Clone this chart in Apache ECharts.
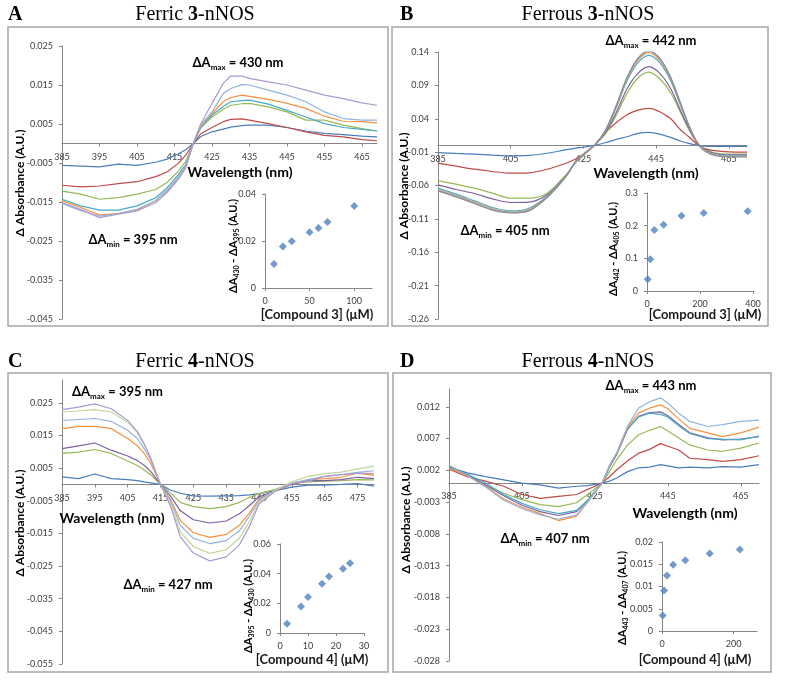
<!DOCTYPE html>
<html><head><meta charset="utf-8">
<script src="https://cdn.jsdelivr.net/npm/echarts@6/dist/echarts.min.js"></script>
<style>html,body{margin:0;padding:0;background:#fff}#c{width:800px;height:686px}</style>
</head><body><div id="c"></div>
<script>
// ---------------- Panel A : Ferric 3-nNOS ----------------
const wlA = [385,390,395,400,405,410,413,416,418,420,422,425,428,430,433,435,440,445,450,455,460,465,469];
const A_blue   = [-0.0056,-0.0058,-0.006,-0.0053,-0.0056,-0.0048,-0.004,-0.0027,-0.0016,0,0.0018,0.003,0.0037,0.0042,0.0046,0.0047,0.0047,0.0041,0.0032,0.0026,0.0023,0.0019,0.0017];
const A_red    = [-0.0107,-0.0111,-0.0109,-0.0103,-0.0098,-0.0085,-0.0073,-0.0051,-0.003,0,0.0025,0.0041,0.0056,0.0062,0.0063,0.006,0.0051,0.0041,0.003,0.0021,0.0017,0.001,0.0007];
const A_green  = [-0.0122,-0.013,-0.0143,-0.0139,-0.013,-0.0118,-0.01,-0.0071,-0.0046,0,0.004,0.0068,0.0088,0.0098,0.0102,0.0103,0.0094,0.0081,0.006,0.006,0.0047,0.0038,0.0032];
const A_aqua   = [-0.0143,-0.016,-0.0171,-0.0171,-0.016,-0.0139,-0.0114,-0.008,-0.0054,0,0.0042,0.0073,0.0095,0.0107,0.011,0.0111,0.0101,0.0085,0.0068,0.0051,0.0041,0.0036,0.0032];
const A_orange = [-0.0147,-0.0164,-0.0183,-0.018,-0.0171,-0.0147,-0.0122,-0.0088,-0.0058,0,0.0045,0.0077,0.0107,0.0118,0.0124,0.0121,0.0113,0.0103,0.009,0.007,0.0057,0.0056,0.0053];
const A_ltblue = [-0.0154,-0.0172,-0.0186,-0.018,-0.0169,-0.0146,-0.012,-0.0086,-0.0056,0,0.0048,0.0081,0.0128,0.0141,0.0151,0.015,0.0137,0.0124,0.0107,0.0081,0.0064,0.006,0.006];
const A_lav    = [-0.0152,-0.0169,-0.019,-0.0181,-0.0173,-0.0152,-0.0126,-0.0092,-0.0063,0,0.005,0.0103,0.0154,0.0173,0.0173,0.0167,0.0158,0.015,0.0137,0.0124,0.0115,0.0104,0.0098];
const A_xTicks = [385,395,405,415,425,435,445,455,465];
const A_yTicks = [-0.045,-0.035,-0.025,-0.015,-0.005,0.005,0.015,0.025];
const Ai_conc = [10,20,30,50,60,70,100];
const Ai_val  = [0.0102,0.0177,0.0199,0.0237,0.0255,0.0281,0.0349];
const Ai_xTicks = [0,50,100];
const Ai_yTicks = [0,0.02,0.04];

// ---------------- Panel B : Ferrous 3-nNOS ----------------
const wlB = [385,390,395,400,405,410,415,420,423,425,428,431,434,437,440,443,446,449,452,454,456,458,461,465,470];
const B_blue   = [-0.0108,-0.012,-0.013,-0.0145,-0.0157,-0.015,-0.0117,-0.0067,-0.004,-0.0027,0,0.004,0.009,0.013,0.0182,0.0197,0.017,0.012,0.006,0.003,0.0005,-0.001,-0.0013,-0.0015,-0.0015];
const B_red    = [-0.0266,-0.031,-0.0356,-0.039,-0.0416,-0.041,-0.0356,-0.027,-0.02,-0.013,0,0.019,0.034,0.046,0.053,0.0556,0.0505,0.04,0.022,0.013,0.003,-0.004,-0.0078,-0.0097,-0.01];
const B_green  = [-0.0526,-0.058,-0.064,-0.0715,-0.079,-0.079,-0.0715,-0.045,-0.025,-0.015,0,0.017,0.045,0.078,0.101,0.11,0.1,0.079,0.046,0.024,0.006,-0.005,-0.011,-0.013,-0.013];
const B_purple = [-0.059,-0.066,-0.072,-0.08,-0.0855,-0.085,-0.074,-0.047,-0.024,-0.014,0,0.019,0.049,0.085,0.108,0.118,0.108,0.085,0.049,0.026,0.006,-0.005,-0.012,-0.014,-0.014];
const B_aqua   = [-0.064,-0.073,-0.083,-0.093,-0.098,-0.094,-0.076,-0.047,-0.023,-0.013,0,0.021,0.056,0.097,0.124,0.135,0.124,0.097,0.056,0.029,0.007,-0.006,-0.014,-0.015,-0.015];
const B_orange = [-0.066,-0.075,-0.085,-0.095,-0.1,-0.096,-0.077,-0.048,-0.023,-0.013,0,0.022,0.058,0.1,0.128,0.139,0.128,0.1,0.058,0.03,0.007,-0.006,-0.014,-0.016,-0.016];
const B_ltblue = [-0.067,-0.076,-0.086,-0.096,-0.1,-0.097,-0.078,-0.048,-0.023,-0.013,0,0.022,0.059,0.101,0.13,0.141,0.13,0.101,0.059,0.03,0.007,-0.006,-0.014,-0.016,-0.016];
const B_gray   = [-0.068,-0.077,-0.087,-0.097,-0.101,-0.098,-0.078,-0.048,-0.023,-0.013,0,0.022,0.059,0.102,0.131,0.142,0.131,0.102,0.059,0.03,0.007,-0.007,-0.015,-0.017,-0.017];
const B_xTicks = [385,405,425,445,465];
const B_yTicks = [-0.26,-0.21,-0.16,-0.11,-0.06,-0.01,0.04,0.09,0.14];
const Bi_conc = [2.5,12.5,27.5,62.5,130,214,380];
const Bi_val  = [0.036,0.097,0.187,0.203,0.23,0.239,0.244];
const Bi_xTicks = [0,200,400];
const Bi_yTicks = [0,0.1,0.2,0.3];

// ---------------- Panel C : Ferric 4-nNOS ----------------
const wlC = [385,390,395,400,405,408,410,412,415,418,421,425,430,435,439,442,445,450,455,460,465,470,475,480];
const C_blue    = [0.0023,0.0018,0.0032,0.0018,0.0015,0.0012,0.0008,0.0005,0,-0.0017,-0.0027,-0.0035,-0.0036,-0.0035,-0.0034,-0.0032,-0.0028,-0.0019,-0.0008,-0.0002,-0.0002,0,0.0003,-0.0005];
const C_green   = [0.0095,0.0099,0.0107,0.0095,0.0072,0.0058,0.0044,0.003,0,-0.0025,-0.0055,-0.0068,-0.0074,-0.0068,-0.0055,-0.004,-0.0028,-0.0015,0.0004,0.0008,0.001,0.0012,0.0015,0.0014];
const C_purple  = [0.011,0.0118,0.0127,0.0105,0.0087,0.0073,0.0059,0.004,0,-0.0035,-0.008,-0.0108,-0.0118,-0.0112,-0.009,-0.0065,-0.0038,-0.002,0,0.0012,0.0012,0.0015,0.0022,0.0018];
const C_orange  = [0.0171,0.0178,0.0178,0.0171,0.0141,0.0118,0.0095,0.0065,0,-0.0045,-0.011,-0.0148,-0.0162,-0.0153,-0.0125,-0.0088,-0.0045,-0.002,0.0002,0.0015,0.0018,0.0022,0.0035,0.0028];
const C_ltblue  = [0.0196,0.0199,0.0202,0.0193,0.0166,0.014,0.011,0.0075,0,-0.005,-0.0125,-0.0165,-0.0181,-0.0172,-0.0142,-0.0098,-0.0048,-0.0018,0.0004,0.0015,0.0025,0.003,0.0037,0.0042];
const C_ltgreen = [0.0222,0.0225,0.0229,0.0222,0.019,0.0158,0.0122,0.0082,0,-0.006,-0.0145,-0.019,-0.0211,-0.02,-0.0165,-0.0115,-0.0055,-0.0018,0.0008,0.0025,0.0033,0.0038,0.0048,0.0056];
const C_lav     = [0.0229,0.0237,0.0247,0.0232,0.0196,0.0161,0.0125,0.008,0,-0.0065,-0.016,-0.021,-0.0234,-0.0222,-0.0185,-0.013,-0.006,-0.002,0.0003,0.001,0.0025,0.003,0.0035,0.0033];
const C_xTicks = [385,395,405,415,425,435,445,455,465,475];
const C_yTicks = [-0.055,-0.045,-0.035,-0.025,-0.015,-0.005,0.005,0.015,0.025];
const Ci_conc = [2.5,7.5,10,15,17.5,22.5,25];
const Ci_val  = [0.0063,0.0179,0.0242,0.0332,0.0381,0.0433,0.0471];
const Ci_xTicks = [0,10,20,30];
const Ci_yTicks = [0,0.02,0.04,0.06];

// ---------------- Panel D : Ferrous 4-nNOS ----------------
const wlD = [385,390,395,400,405,410,415,420,423,425,427,429,431,434,437,440,443,445,448,451,456,460,465,470];
const D_blue   = [0.0025,0.0016,0.001,0.0005,0,-0.0003,-0.0008,-0.0005,-0.0004,-0.0002,0,0.0003,0.0008,0.0018,0.0024,0.0025,0.0029,0.0027,0.0024,0.0025,0.0024,0.0026,0.0025,0.0029];
const D_red    = [0.0022,0.001,0.0003,-0.0005,-0.0018,-0.0024,-0.0021,-0.0018,-0.001,-0.0005,0,0.001,0.0021,0.0035,0.0047,0.0053,0.0062,0.0058,0.0052,0.0039,0.0037,0.0034,0.0037,0.0043];
const D_green  = [0.0025,0.0012,-0.0003,-0.0016,-0.0026,-0.0034,-0.0037,-0.0031,-0.0018,-0.0009,0,0.0018,0.0037,0.006,0.0076,0.0083,0.0089,0.0082,0.0071,0.006,0.0052,0.005,0.0055,0.0063];
const D_purple = [0.0027,0.0013,-0.0003,-0.002,-0.0035,-0.0045,-0.0051,-0.0045,-0.0028,-0.0014,0,0.0025,0.0045,0.0085,0.0105,0.0111,0.0112,0.0106,0.0092,0.0079,0.0071,0.0068,0.0069,0.0073];
const D_aqua   = [0.0024,0.0014,0,-0.0018,-0.0032,-0.0042,-0.0048,-0.0043,-0.0027,-0.0013,0,0.0026,0.0046,0.0086,0.0104,0.011,0.0108,0.0104,0.009,0.0078,0.007,0.0069,0.0068,0.0074];
const D_orange = [0.0023,0.0012,-0.0005,-0.0025,-0.0038,-0.0048,-0.0059,-0.0052,-0.003,-0.0015,0,0.0027,0.0047,0.0088,0.011,0.0118,0.0123,0.0117,0.0101,0.0086,0.0079,0.0073,0.0079,0.0088];
const D_ltblue = [0.0028,0.0012,-0.0006,-0.0027,-0.004,-0.005,-0.0057,-0.005,-0.003,-0.0015,0,0.0028,0.0048,0.009,0.0118,0.0128,0.0134,0.0126,0.011,0.0097,0.0089,0.0092,0.0097,0.0099];
const D_xTicks = [385,405,425,445,465];
const D_yTicks = [-0.028,-0.023,-0.018,-0.013,-0.008,-0.003,0.002,0.007,0.012];
const Di_conc = [2,6,14,31,65,133,217];
const Di_val  = [0.0035,0.0091,0.0125,0.0149,0.0159,0.0174,0.0183];
const Di_xTicks = [0,200];
const Di_yTicks = [0,0.005,0.01,0.015,0.02];

// ---------------- styling ----------------
const BLUE='#4A7EBB', RED='#BE4B48', GREEN='#98B954', PURPLE='#7D60A0', AQUA='#46AAC5',
      ORANGE='#F69240', LTBLUE='#93B3DB', LAV='#A99BD0', LTGREEN='#C3D69B', GRAY='#8C8C8C';
const FONT = 'Lato, "Liberation Sans", sans-serif';
const SERIF = '"Liberation Serif", "DejaVu Serif", serif';
const AX = '#868686', LBL = '#404040';

const grids = [
  {left:62,  top:46,  width:315, height:273},   // A
  {left:265, top:194, width:107, height:94},    // A inset
  {left:438, top:52,  width:309, height:267},   // B
  {left:647, top:193, width:106, height:98},    // B inset
  {left:62,  top:380, width:312, height:284},   // C
  {left:280, top:544, width:84,  height:89},    // C inset
  {left:449, top:389, width:310, height:272},   // D
  {left:662, top:542, width:95,  height:89}     // D inset
].map(g => Object.assign({containLabel:false}, g));

const yRanges = [[-0.045,0.025],[0,0.04],[-0.26,0.14],[0,0.3],[-0.055,0.032],[0,0.06],[-0.028,0.0148],[0,0.02]];

// x axis of a main panel sits on y = 0 of its value axis (placed via offset from the grid bottom)
function zeroOffset(gi) {
  const [lo, hi] = yRanges[gi];
  return -grids[gi].height * (0 - lo) / (hi - lo);
}
function xAx(gi, min, max, ticks) {
  return {type:'value', gridIndex:gi, min, max, position:'bottom', offset: zeroOffset(gi),
    axisLine:{show:true, onZero:false, lineStyle:{color:AX, width:1}},
    axisTick:{show:true, customValues:ticks, length:3, lineStyle:{color:AX}},
    axisLabel:{customValues:ticks, fontSize:9, color:LBL, fontFamily:FONT, margin:9},
    splitLine:{show:false}};
}
function yAx(gi, ticks, dec) {
  const [min, max] = yRanges[gi];
  return {type:'value', gridIndex:gi, min, max,
    axisLine:{show:true, onZero:false, lineStyle:{color:AX, width:1}},
    axisTick:{show:true, customValues:ticks, length:3, lineStyle:{color:AX}},
    axisLabel:{customValues:ticks, fontSize:9, color:LBL, fontFamily:FONT, margin:9,
      formatter: dec == null ? undefined : (v => v.toFixed(dec))},
    splitLine:{show:false}};
}
function lines(gi, wl, arrs, colors, smooth) {
  return arrs.map((a, i) => ({type:'line', xAxisIndex:gi, yAxisIndex:gi,
    data: wl.map((w, j) => [w, a[j]]), symbol:'none', smooth: smooth || false,
    lineStyle:{width:1.2, color:colors[i]}, itemStyle:{color:colors[i]}, silent:true, z:2}));
}
function dots(gi, xs, ys) {
  return {type:'scatter', xAxisIndex:gi, yAxisIndex:gi, data: xs.map((v, i) => [v, ys[i]]),
    symbol:'diamond', symbolSize:8, itemStyle:{color:'#4F81BD'}, silent:true, z:3};
}

const xAxis = [
  xAx(0, 385, 469, A_xTicks), xAx(1, 0, 120, Ai_xTicks),
  xAx(2, 385, 470, B_xTicks), xAx(3, 0, 400, Bi_xTicks),
  xAx(4, 385, 480, C_xTicks), xAx(5, 0, 30, Ci_xTicks),
  xAx(6, 385, 470, D_xTicks), xAx(7, 0, 265, Di_xTicks)
];
const yAxis = [
  yAx(0, A_yTicks, 3), yAx(1, Ai_yTicks),
  yAx(2, B_yTicks, 2), yAx(3, Bi_yTicks),
  yAx(4, C_yTicks, 3), yAx(5, Ci_yTicks),
  yAx(6, D_yTicks, 3), yAx(7, Di_yTicks)
];

const series = [].concat(
  lines(0, wlA, [A_blue, A_red, A_green, A_aqua, A_orange, A_ltblue, A_lav],
        [BLUE, RED, GREEN, AQUA, ORANGE, LTBLUE, LAV]),
  [dots(1, Ai_conc, Ai_val)],
  lines(2, wlB, [B_blue, B_red, B_green, B_purple, B_aqua, B_orange, B_ltblue, B_gray],
        [BLUE, RED, GREEN, PURPLE, AQUA, ORANGE, LTBLUE, GRAY], 0.3),
  [dots(3, Bi_conc, Bi_val)],
  lines(4, wlC, [C_blue, C_green, C_purple, C_orange, C_ltblue, C_ltgreen, C_lav],
        [BLUE, GREEN, PURPLE, ORANGE, LTBLUE, LTGREEN, LAV]),
  [dots(5, Ci_conc, Ci_val)],
  lines(6, wlD, [D_blue, D_red, D_green, D_purple, D_aqua, D_orange, D_ltblue],
        [BLUE, RED, GREEN, PURPLE, AQUA, ORANGE, LTBLUE]),
  [dots(7, Di_conc, Di_val)]
);

// ---------------- texts & frames ----------------
function box(x, y, w, h) {
  return {type:'rect', shape:{x, y, width:w, height:h}, silent:true, z:0,
    style:{fill:'none', stroke:'#A6A6A6', lineWidth:1.5}};
}
function txt(x, y, text, rich, align, rot) {
  return {type:'text', x, y, rotation: rot || 0, silent:true, z:10,
    style:{text, rich, align: align || 'center', verticalAlign:'middle',
      fill:'#000', fontFamily:FONT, fontSize:12}};
}
const richTitle = {
  n:{fontSize:20, fontFamily:SERIF, fill:'#000', lineHeight:24},
  b:{fontSize:20, fontFamily:SERIF, fontWeight:'bold', fill:'#000', lineHeight:24}
};
const richAnn = {
  b:{fontSize:13, fontWeight:'bold', fontFamily:FONT, fill:'#000', lineHeight:16},
  s:{fontSize:8, fontWeight:'bold', fontFamily:FONT, fill:'#000', lineHeight:9, verticalAlign:'bottom'}
};
const richSmall = {
  b:{fontSize:11, fontWeight:'bold', fontFamily:FONT, fill:'#000', lineHeight:14},
  s:{fontSize:7, fontWeight:'bold', fontFamily:FONT, fill:'#000', lineHeight:8, verticalAlign:'bottom'}
};
const richAxis = {b:{fontSize:12, fontWeight:'bold', fontFamily:FONT, fill:'#000'}};
const richWave = {b:{fontSize:14, fontWeight:'bold', fontFamily:FONT, fill:'#000'}};
const richComp = {b:{fontSize:13, fontWeight:'bold', fontFamily:FONT, fill:'#1a1a1a'}};
const V = Math.PI / 2;

const graphic = [
  box(8, 27, 380, 299), box(392, 27, 376, 299), box(8, 373, 380, 299), box(393, 373, 378, 299),
  txt(8, 15, '{b|A}', richTitle, 'left'), txt(400, 15, '{b|B}', richTitle, 'left'),
  txt(8, 362, '{b|C}', richTitle, 'left'), txt(400, 362, '{b|D}', richTitle, 'left'),
  txt(195, 15, '{n|Ferric }{b|3}{n|-nNOS}', richTitle),
  txt(588, 15, '{n|Ferrous }{b|3}{n|-nNOS}', richTitle),
  txt(195, 362, '{n|Ferric }{b|4}{n|-nNOS}', richTitle),
  txt(588, 362, '{n|Ferrous }{b|4}{n|-nNOS}', richTitle),
  txt(20, 183, '{b|Δ Absorbance (A.U.)}', richAxis, 'center', V),
  txt(404, 186, '{b|Δ Absorbance (A.U.)}', richAxis, 'center', V),
  txt(20, 523, '{b|Δ Absorbance (A.U.)}', richAxis, 'center', V),
  txt(406, 520, '{b|Δ Absorbance (A.U.)}', richAxis, 'center', V),
  txt(240, 172, '{b|Wavelength (nm)}', richWave),
  txt(646, 173, '{b|Wavelength (nm)}', richWave),
  txt(112, 518, '{b|Wavelength (nm)}', richWave),
  txt(685, 513, '{b|Wavelength (nm)}', richWave),
  txt(238, 63, '{b|ΔA}{s|max}{b| = 430 nm}', richAnn),
  txt(133, 240, '{b|ΔA}{s|min}{b| = 395 nm}', richAnn),
  txt(651, 41, '{b|ΔA}{s|max}{b| = 442 nm}', richAnn),
  txt(505, 231, '{b|ΔA}{s|min}{b| = 405 nm}', richAnn),
  txt(72, 392, '{b|ΔA}{s|max}{b| = 395 nm}', richAnn, 'left'),
  txt(168, 585, '{b|ΔA}{s|min}{b| = 427 nm}', richAnn),
  txt(651, 386, '{b|ΔA}{s|max}{b| = 443 nm}', richAnn),
  txt(545, 539, '{b|ΔA}{s|min}{b| = 407 nm}', richAnn),
  txt(233, 246, '{b|ΔA}{s|430}{b| - ΔA}{s|395}{b| (A.U.)}', richSmall, 'center', V),
  txt(613, 249, '{b|ΔA}{s|442}{b| - ΔA}{s|405}{b| (A.U.)}', richSmall, 'center', V),
  txt(248, 606, '{b|ΔA}{s|395}{b| - ΔA}{s|430}{b| (A.U.)}', richSmall, 'center', V),
  txt(622, 598, '{b|ΔA}{s|443}{b| - ΔA}{s|407}{b| (A.U.)}', richSmall, 'center', V),
  txt(317, 315, '{b|[Compound 3] (μM)}', richComp),
  txt(705, 315, '{b|[Compound 3] (μM)}', richComp),
  txt(312, 660, '{b|[Compound 4] (μM)}', richComp),
  txt(695, 660, '{b|[Compound 4] (μM)}', richComp)
];

const chart = echarts.init(document.getElementById('c'), null, {renderer:'canvas'});
chart.setOption({
  animation:false,
  backgroundColor:'#ffffff',
  grid: grids, xAxis, yAxis, series, graphic
});
</script>
</body></html>
